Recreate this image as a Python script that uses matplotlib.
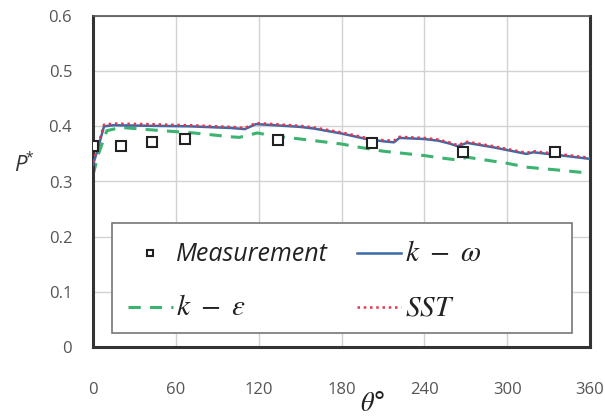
import matplotlib
matplotlib.use("Agg")
import matplotlib.pyplot as plt
from matplotlib.patches import Rectangle

# measured pressure coefficient around the cylinder
theta_meas = [0, 20, 43, 67, 134, 202, 268, 335]
p_meas = [0.365, 0.364, 0.371, 0.377, 0.375, 0.369, 0.353, 0.353]

# k-omega and SST predictions (same angular stations)
theta_kw = [0, 3, 8, 15, 40, 70, 100, 110, 118, 125, 150, 160, 180, 198,
            210, 218, 222, 240, 250, 258, 264, 271, 290, 314, 319, 340, 360]
p_kw = [0.330, 0.355, 0.400, 0.402, 0.401, 0.400, 0.397, 0.395, 0.404, 0.403,
        0.399, 0.396, 0.387, 0.377, 0.373, 0.371, 0.379, 0.377, 0.374, 0.369,
        0.364, 0.370, 0.362, 0.350, 0.353, 0.347, 0.341]
p_sst = [0.335, 0.360, 0.403, 0.405, 0.404, 0.402, 0.399, 0.397, 0.406, 0.405,
         0.401, 0.398, 0.389, 0.379, 0.375, 0.374, 0.381, 0.379, 0.376, 0.371,
         0.366, 0.372, 0.364, 0.352, 0.355, 0.349, 0.343]

# k-epsilon prediction
theta_ke = [0, 4, 10, 20, 40, 73, 100, 106, 119, 130, 157, 180, 193, 210,
            240, 251, 264, 271, 300, 314, 340, 360]
p_ke = [0.312, 0.350, 0.392, 0.398, 0.394, 0.388, 0.381, 0.380, 0.388, 0.383,
        0.375, 0.368, 0.362, 0.355, 0.347, 0.343, 0.339, 0.344, 0.333, 0.326,
        0.320, 0.315]

x_ticks = [0, 60, 120, 180, 240, 300, 360]
y_ticks = [0, 0.1, 0.2, 0.3, 0.4, 0.5, 0.6]
y_labels = ["0", "0.1", "0.2", "0.3", "0.4", "0.5", "0.6"]

plt.rcParams["mathtext.fontset"] = "stix"

fig = plt.figure(figsize=(6.05, 4.19), dpi=100)
ax = fig.add_axes([93 / 605, 72 / 419, 497 / 605, 331 / 419])

ax.plot(theta_meas, p_meas, linestyle="none", marker="s", markersize=7,
        markerfacecolor="white", markeredgecolor="#222222",
        markeredgewidth=1.5, label="Measurement", zorder=4)
ax.plot(theta_kw, p_kw, color="#3d6aa6", linewidth=1.8, label=r"$k\ -\ \omega$", zorder=3)
ax.plot(theta_ke, p_ke, color="#3cb371", linewidth=2.2, linestyle=(0, (4, 3)),
        label=r"$k\ -\ \varepsilon$", zorder=2)
ax.plot(theta_kw, p_sst, color="#e8334a", linewidth=1.8, linestyle=(0, (1, 1.5)),
        label=r"$SST$", zorder=3)

ax.set_xlim(0, 360)
ax.set_ylim(0, 0.6)
ax.set_xticks(x_ticks)
ax.set_yticks(y_ticks)
ax.set_yticklabels(y_labels)
ax.tick_params(axis="both", length=0, labelsize=12, colors="#555555")
ax.tick_params(axis="x", pad=25)
ax.tick_params(axis="y", pad=15)
for lbl in ax.get_xticklabels() + ax.get_yticklabels():
    lbl.set_family("Open Sans")

ax.grid(True, color="#d2d2d2", linewidth=1)
ax.set_axisbelow(True)
for side in ["left", "bottom", "right"]:
    ax.spines[side].set_color("#333333")
    ax.spines[side].set_linewidth(2.2)
ax.spines["top"].set_color("#555555")
ax.spines["top"].set_linewidth(1.2)

# legend box (wider than its content, as in the original)
ax.add_patch(Rectangle((0.038, 0.042), 0.926, 0.333, transform=ax.transAxes,
                       facecolor="white", edgecolor="#777777", linewidth=1.2,
                       zorder=4.5))

handles, labels = ax.get_legend_handles_labels()
order = [0, 2, 1, 3]
leg = ax.legend([handles[i] for i in order], [labels[i] for i in order],
                ncol=2, loc="upper left", bbox_to_anchor=(0.038, 0.375),
                borderaxespad=0, frameon=False, fontsize=17,
                labelspacing=1.12, handlelength=1.9, handletextpad=0.15,
                columnspacing=1.2, borderpad=0.68, markerscale=0.6)
leg.set_zorder(5)
texts = leg.get_texts()
texts[0].set_family("Open Sans")
texts[0].set_style("italic")
texts[0].set_fontsize(18)
texts[0].set_color("#222222")
for t in texts[1:]:
    t.set_fontsize(21)
    t.set_color("#222222")

fig.text(20 / 605, 1 - 165 / 419, "P", fontsize=16, style="italic",
         family="Open Sans", color="#333333", ha="center", va="center")
fig.text(29 / 605, 1 - 158 / 419, "*", fontsize=10,
         family="Open Sans", color="#333333", ha="center", va="center")
fig.text(373 / 605, 1 - 404 / 419, r"$\theta$°", fontsize=19,
         color="#222222", ha="center", va="center")

fig.savefig("out.png", dpi=100)
